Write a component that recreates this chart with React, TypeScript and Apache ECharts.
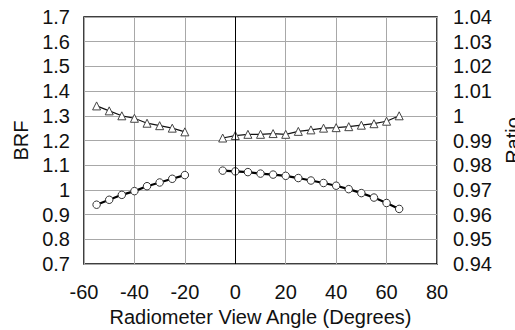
import React, { useEffect, useRef } from "react";
import * as echarts from "echarts";

// View angles (degrees)
const anglesLeft = [-55, -50, -45, -40, -35, -30, -25, -20];
const anglesRight = [-5, 0, 5, 10, 15, 20, 25, 30, 35, 40, 45, 50, 55, 60, 65];

// Upper curve (triangles), BRF
const triLeft = [1.34, 1.32, 1.30, 1.29, 1.27, 1.26, 1.25, 1.235];
const triRight = [1.21, 1.22, 1.225, 1.225, 1.228, 1.225, 1.237, 1.243, 1.25, 1.252, 1.256, 1.262, 1.268, 1.278, 1.30];

// Lower curve (circles / diamonds), BRF
const lowLeft = [0.94, 0.96, 0.98, 0.995, 1.015, 1.03, 1.045, 1.06];
const lowRight = [1.078, 1.075, 1.072, 1.066, 1.062, 1.057, 1.048, 1.038, 1.028, 1.017, 1.003, 0.987, 0.969, 0.947, 0.923];

// Axis settings
const xTicks = { min: -60, max: 80, interval: 20 };
const brfTicks = { min: 0.7, max: 1.7, interval: 0.1 };
const ratioTicks = { min: 0.94, max: 1.04, interval: 0.01 };

const FONT = "Liberation Sans, Arial, sans-serif";

function pairs(xs: number[], ys: number[]) {
  return xs.map((x, i) => [x, ys[i]]);
}

export default function App() {
  const ref = useRef<HTMLDivElement>(null);
  useEffect(() => {
    if (!ref.current) return;
    const chart = echarts.init(ref.current, null, { renderer: "svg" });
    const labelStyle = { color: "#111", fontSize: 20, fontFamily: FONT };
    const triStyle = {
      type: "line" as const,
      yAxisIndex: 0,
      symbol: "triangle",
      symbolSize: 8,
      itemStyle: { color: "#fff", borderColor: "#444", borderWidth: 1 },
      lineStyle: { color: "#111", width: 1.2 },
      z: 3,
    };
    const lowStyle = {
      type: "line" as const,
      yAxisIndex: 0,
      symbol: "circle",
      symbolSize: 7.5,
      itemStyle: { color: "#fff", borderColor: "#333", borderWidth: 1 },
      lineStyle: { color: "#000", width: 2.2 },
      z: 3,
    };
    chart.setOption({
      animation: false,
      grid: {
        left: 84,
        right: 78,
        top: 17,
        bottom: 66,
        containLabel: false,
        outerBoundsMode: "none",
        show: true,
        borderColor: "#000",
        borderWidth: 1.5,
        backgroundColor: "transparent",
      },
      xAxis: {
        type: "value",
        ...xTicks,
        name: "Radiometer View Angle (Degrees)",
        nameLocation: "middle",
        nameGap: 40,
        nameTextStyle: { ...labelStyle },
        axisLine: { show: false },
        axisTick: { show: false },
        axisLabel: { ...labelStyle, margin: 18 },
        splitLine: { show: true, lineStyle: { color: "#a8a8a8", width: 1 } },
      },
      yAxis: [
        {
          type: "value",
          position: "left",
          ...brfTicks,
          name: "BRF",
          nameLocation: "middle",
          nameGap: 52,
          nameTextStyle: { ...labelStyle },
          axisLine: { show: false },
          axisTick: { show: false },
          axisLabel: {
            ...labelStyle,
            margin: 14,
            formatter: (v: number) => {
              const r = Math.round(v * 10) / 10;
              return r === 1 ? "1" : r.toFixed(1);
            },
          },
          splitLine: { show: true, lineStyle: { color: "#a8a8a8", width: 1 } },
        },
        {
          type: "value",
          position: "right",
          ...ratioTicks,
          name: "Ratio",
          nameLocation: "middle",
          nameRotate: 90,
          nameGap: 66,
          nameTextStyle: { ...labelStyle, verticalAlign: "top" },
          axisLine: { show: false },
          axisTick: { show: false },
          axisLabel: {
            ...labelStyle,
            margin: 16,
            formatter: (v: number) => {
              const r = Math.round(v * 100) / 100;
              return r === 1 ? "1" : r.toFixed(2);
            },
          },
          splitLine: { show: false },
        },
      ],
      series: [
        {
          ...triStyle,
          name: "tri-left",
          data: pairs(anglesLeft, triLeft),
          markLine: {
            silent: true,
            symbol: "none",
            label: { show: false },
            lineStyle: { color: "#000", width: 1, type: "solid" },
            data: [{ xAxis: 0 }],
          },
        },
        { ...triStyle, name: "tri-right", data: pairs(anglesRight, triRight) },
        { ...lowStyle, name: "low-left", data: pairs(anglesLeft, lowLeft) },
        { ...lowStyle, name: "low-right", data: pairs(anglesRight, lowRight) },
      ],
    });
    return () => chart.dispose();
  }, []);
  return (
    <div
      ref={ref}
      style={{ position: "fixed", left: 0, top: 0, width: 515, height: 330, background: "#fff" }}
    />
  );
}
